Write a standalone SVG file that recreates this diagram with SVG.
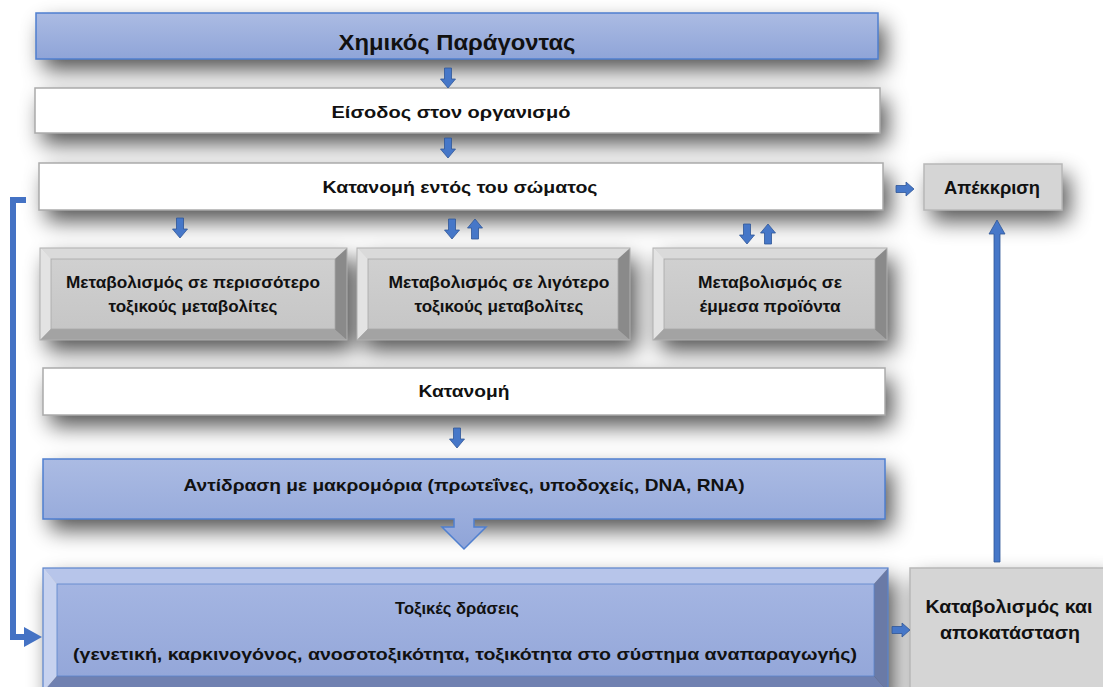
<svg xmlns="http://www.w3.org/2000/svg" xmlns:xlink="http://www.w3.org/1999/xlink" width="1103" height="687" viewBox="0 0 1103 687">
  <style>
    .t { font-family: "Liberation Sans", "DejaVu Sans", Arial, sans-serif; font-weight: bold; fill: #111; text-anchor: middle; }
    .f16 { font-size: 17px; }
    .f15 { font-size: 16.5px; }
    .plain { fill: #ffffff; stroke: #ababab; stroke-width: 1.5; }
    .grey { fill: #d5d5d5; stroke: #b8b8b8; stroke-width: 1.5; }
    .bluebox { fill: url(#blueGrad); stroke: #4f7fcf; stroke-width: 1.5; }
    .arr { fill: #4677c8; stroke: #2f5597; stroke-width: 0.8; }
    .shadow { fill: #000; }
    .gTop { fill: #dadada; } .gLeft { fill: #e3e3e3; } .gRight { fill: #8a8a8a; } .gBot { fill: #a3a3a3; }
    .gFace { fill: url(#greyGrad); stroke: #a8a8a8; stroke-width: 0.8; }
    .gOut { fill: none; stroke: #b0b0b0; stroke-width: 1; }
  </style>
  <defs>
    <linearGradient id="blueGrad" x1="0" y1="0" x2="0" y2="1">
      <stop offset="0" stop-color="#abbbe3"/>
      <stop offset="1" stop-color="#8fa4d8"/>
    </linearGradient>
    <linearGradient id="blueFace" x1="0" y1="0" x2="0" y2="1">
      <stop offset="0" stop-color="#a4b5e2"/>
      <stop offset="1" stop-color="#94a7d9"/>
    </linearGradient>
    <linearGradient id="greyGrad" x1="0" y1="0" x2="0" y2="1">
      <stop offset="0" stop-color="#d0d0d0"/>
      <stop offset="1" stop-color="#c6c6c6"/>
    </linearGradient>
    <filter id="soft" x="-20%" y="-60%" width="140%" height="240%">
      <feGaussianBlur stdDeviation="11"/>
    </filter>
    <!-- small block arrows, origin at the tip-side centre -->
    <path id="down" d="M-3.5 0 H3.5 V11 H7.5 L0 20 L-7.5 11 H-3.5 Z"/>
    <path id="up" d="M-3.5 20 H3.5 V9 H7.5 L0 0 L-7.5 9 H-3.5 Z"/>
    <path id="right" d="M0 -3.5 V3.5 H10 V7 L18 0 L10 -7 V-3.5 Z"/>
  </defs>

  <rect width="1103" height="687" fill="#ffffff"/>

  <!-- soft drop shadows under every box -->
  <g id="shadows" filter="url(#soft)" opacity="0.68" transform="translate(7,11)">
    <rect class="shadow" x="36" y="13" width="842" height="46"/>
    <rect class="shadow" x="35" y="88" width="845" height="45"/>
    <rect class="shadow" x="39" y="163" width="844" height="47"/>
    <rect class="shadow" x="924" y="164" width="138" height="46"/>
    <rect class="shadow" x="40" y="248" width="307" height="92"/>
    <rect class="shadow" x="357" y="248" width="273" height="92"/>
    <rect class="shadow" x="653" y="248" width="234" height="92"/>
    <rect class="shadow" x="43" y="368" width="842" height="47"/>
    <rect class="shadow" x="43" y="459" width="842" height="60"/>
    <rect class="shadow" x="43" y="568" width="845" height="130"/>
    <rect class="shadow" x="910" y="568" width="200" height="130"/>
  </g>

  <!-- nodes -->
  <g id="chemical-agent">
    <rect class="bluebox" x="36" y="13" width="842" height="46"/>
    <text class="t" x="457" y="50" font-size="21.5" textLength="237" lengthAdjust="spacingAndGlyphs">Χημικός Παράγοντας</text>
  </g>

  <g id="entry">
    <rect class="plain" x="35" y="88" width="845" height="45"/>
    <text class="t f16" x="451" y="118" textLength="239" lengthAdjust="spacingAndGlyphs">Είσοδος στον οργανισμό</text>
  </g>

  <g id="distribution-body">
    <rect class="plain" x="39" y="163" width="844" height="47"/>
    <text class="t f16" x="460" y="193" textLength="275" lengthAdjust="spacingAndGlyphs">Κατανομή εντός του σώματος</text>
  </g>

  <g id="excretion">
    <rect class="grey" x="924" y="164" width="138" height="46"/>
    <text class="t" x="992" y="194" font-size="18" textLength="96" lengthAdjust="spacingAndGlyphs">Απέκκριση</text>
  </g>

  <g id="metab-more-toxic">
    <polygon class="gTop" points="40,248 347,248 335,259 51,259"/>
    <polygon class="gLeft" points="40,248 51,259 51,329 40,340"/>
    <polygon class="gRight" points="347,248 347,340 335,329 335,259"/>
    <polygon class="gBot" points="40,340 347,340 335,329 51,329"/>
    <rect class="gFace" x="51" y="259" width="284" height="70"/>
    <rect class="gOut" x="40" y="248" width="307" height="92"/>
    <text class="t f15" x="193" y="288" textLength="254" lengthAdjust="spacingAndGlyphs">Μεταβολισμός σε περισσότερο</text>
    <text class="t f15" x="193" y="312" textLength="169" lengthAdjust="spacingAndGlyphs">τοξικούς μεταβολίτες</text>
  </g>

  <g id="metab-less-toxic">
    <polygon class="gTop" points="357,248 630,248 618,259 368,259"/>
    <polygon class="gLeft" points="357,248 368,259 368,329 357,340"/>
    <polygon class="gRight" points="630,248 630,340 618,329 618,259"/>
    <polygon class="gBot" points="357,340 630,340 618,329 368,329"/>
    <rect class="gFace" x="368" y="259" width="250" height="70"/>
    <rect class="gOut" x="357" y="248" width="273" height="92"/>
    <text class="t f15" x="499" y="288" textLength="221" lengthAdjust="spacingAndGlyphs">Μεταβολισμός σε λιγότερο</text>
    <text class="t f15" x="499" y="312" textLength="169" lengthAdjust="spacingAndGlyphs">τοξικούς μεταβολίτες</text>
  </g>

  <g id="metab-indirect">
    <polygon class="gTop" points="653,248 887,248 875,259 664,259"/>
    <polygon class="gLeft" points="653,248 664,259 664,329 653,340"/>
    <polygon class="gRight" points="887,248 887,340 875,329 875,259"/>
    <polygon class="gBot" points="653,340 887,340 875,329 664,329"/>
    <rect class="gFace" x="664" y="259" width="211" height="70"/>
    <rect class="gOut" x="653" y="248" width="234" height="92"/>
    <text class="t f15" x="770" y="288" textLength="144" lengthAdjust="spacingAndGlyphs">Μεταβολισμός σε</text>
    <text class="t f15" x="770" y="312" textLength="141" lengthAdjust="spacingAndGlyphs">έμμεσα προϊόντα</text>
  </g>

  <g id="distribution">
    <rect class="plain" x="43" y="368" width="842" height="47"/>
    <text class="t f16" x="464" y="397" textLength="91" lengthAdjust="spacingAndGlyphs">Κατανομή</text>
  </g>

  <g id="macromolecules">
    <path class="bluebox" d="M43 459 H885 V519 H474 V527 H486 L464 549 L442 527 H454 V519 H43 Z"/>
    <text class="t f16" x="464" y="491" textLength="561" lengthAdjust="spacingAndGlyphs">Αντίδραση με μακρομόρια (πρωτεΐνες, υποδοχείς, DNA, RNA)</text>
  </g>

  <g id="toxic-effects">
    <polygon fill="#b7c5ea" points="43,568 888,568 874,584 57,584"/>
    <polygon fill="#c7d2ef" points="43,568 57,584 57,676 43,692"/>
    <polygon fill="#6a7aa6" points="888,568 888,692 874,676 874,584"/>
    <polygon fill="#7081b1" points="43,692 888,692 874,676 57,676"/>
    <rect x="57" y="584" width="817" height="92" fill="url(#blueFace)" stroke="#5b84cc" stroke-width="0.8"/>
    <rect x="43" y="568" width="845" height="124" fill="none" stroke="#5b84cc" stroke-width="1.2"/>
    <text class="t f16" x="457" y="614" textLength="124" lengthAdjust="spacingAndGlyphs">Τοξικές δράσεις</text>
    <text class="t f16" x="465" y="660" textLength="784" lengthAdjust="spacingAndGlyphs">(γενετική, καρκινογόνος, ανοσοτοξικότητα, τοξικότητα στο σύστημα αναπαραγωγής)</text>
  </g>

  <g id="catabolism">
    <rect class="grey" x="910" y="568" width="200" height="130"/>
    <text class="t" x="1009" y="613" font-size="17.5" textLength="167" lengthAdjust="spacingAndGlyphs">Καταβολισμός και</text>
    <text class="t" x="1010" y="639" font-size="17.5" textLength="140" lengthAdjust="spacingAndGlyphs">αποκατάσταση</text>
  </g>

  <!-- connectors -->
  <g id="connectors">
    <use href="#down" class="arr" x="448" y="68"/>
    <use href="#down" class="arr" x="448" y="138"/>
    <use href="#down" class="arr" x="180" y="218"/>
    <use href="#down" class="arr" x="452" y="219"/>
    <use href="#up" class="arr" x="475" y="219"/>
    <use href="#down" class="arr" x="747" y="224"/>
    <use href="#up" class="arr" x="768" y="224"/>
    <use href="#down" class="arr" x="457" y="428"/>
    <use href="#right" class="arr" x="896" y="189"/>
    <use href="#right" class="arr" x="892" y="630"/>
    <!-- catabolism back up to excretion -->
    <path class="arr" d="M994 562 V234 H989 L997 220 L1005 234 H1000 V562 Z"/>
    <!-- loop from the body distribution down to toxic effects -->
    <path d="M26 200 H13 V637 H27" fill="none" stroke="#4472c4" stroke-width="6"/>
    <path d="M24 627 L42 637 L24 647 Z" fill="#4472c4"/>
  </g>
</svg>
